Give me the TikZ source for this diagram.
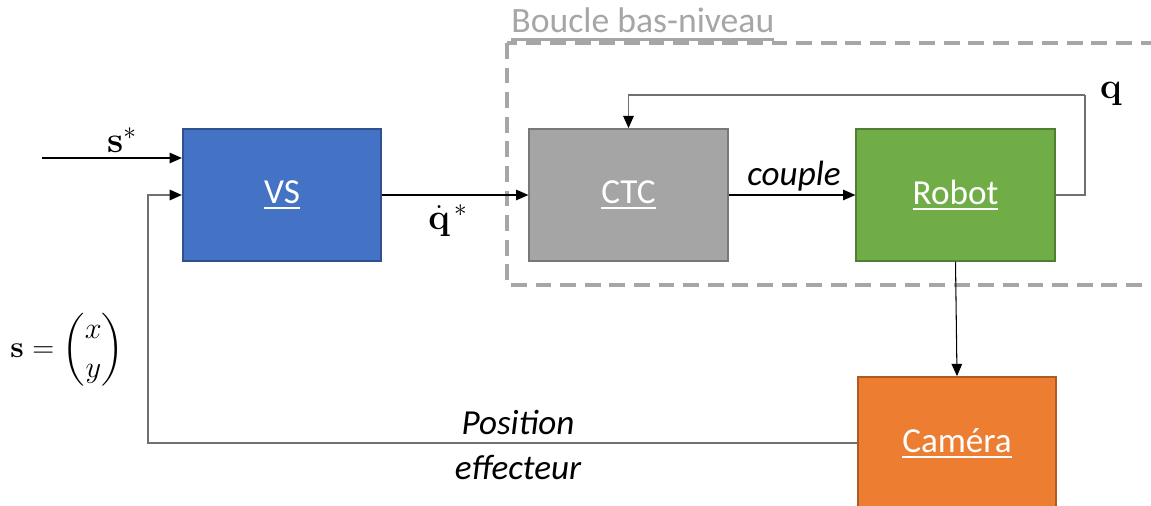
\documentclass[tikz,border=0pt]{standalone}
\usepackage{amsmath}
\usepackage[no-math]{fontspec}
\setmainfont{Carlito}
\usetikzlibrary{arrows.meta}
\definecolor{vsfill}{HTML}{4472C4}
\definecolor{vsdraw}{HTML}{2F528F}
\definecolor{ctcfill}{HTML}{A5A5A5}
\definecolor{ctcdraw}{HTML}{787878}
\definecolor{robfill}{HTML}{70AD47}
\definecolor{robdraw}{HTML}{507E32}
\definecolor{camfill}{HTML}{ED7D31}
\definecolor{camdraw}{HTML}{AE5A21}
\definecolor{dashgray}{HTML}{A6A6A6}
\definecolor{fbgray}{HTML}{707070}
\newcommand{\boxul}[1]{\setbox0\hbox{#1}\rlap{\rule[-3pt]{\wd0}{1.1pt}}\box0}
\newcommand{\titleul}[1]{\setbox0\hbox{#1}\rlap{\rule[-4.5pt]{\wd0}{1.6pt}}\box0}
\begin{document}
\begin{tikzpicture}[x=0.02cm,y=-0.02cm,
  blk/.style={rectangle, line width=1pt, minimum width=3.97cm, minimum height=2.64cm,
    text=white, font=\fontsize{20}{24}\selectfont, inner sep=0pt},
  arr/.style={line width=0.6pt, draw=black, -{Triangle[length=7pt,width=6pt,color=black]}},
  fb/.style={line width=0.8pt, draw=fbgray},
  lbl/.style={font=\fontsize{20}{26}\selectfont, inner sep=0pt},
  ilbl/.style={font=\fontsize{20}{26}\selectfont\itshape, inner sep=0pt, align=center}]
\useasboundingbox (0,0) rectangle (1151,506);
\clip (0,0) rectangle (1151,506);
% low-level loop frame
\draw[dashgray, line width=2.4pt, dash pattern=on 9pt off 5pt] (507,43) rectangle (1180,285);
\node[anchor=base west, inner sep=0pt, text=dashgray, font=\fontsize{20.3}{24}\selectfont] (title) at (511,33) {\titleul{Boucle bas-niveau}};
% blocks
\node[blk, fill=vsfill, draw=vsdraw] (vs) at (282,195) {\boxul{VS}};
\node[blk, fill=ctcfill, draw=ctcdraw] (ctc) at (628.5,195) {\boxul{CTC}};
\node[blk, fill=robfill, draw=robdraw] (robot) at (955.5,195) {\boxul{Robot}};
\node[blk, fill=camfill, draw=camdraw] (cam) at (957,443) {\boxul{Caméra}};
% coordinates
\coordinate (sin) at (42,158);
\coordinate (qtop) at (1085,95);
\coordinate (fbc) at (148,443);
% connectors
\draw[arr] (sin) -- (vs.west |- sin);
\draw[arr] (vs.east) -- (ctc.west);
\draw[arr] (ctc.east) -- (robot.west);
\draw[arr] (robot.south) -- (cam.north);
\draw[fb] (robot.east) -| (qtop);
\draw[fb, arrows={-Triangle[length=7pt,width=6pt,color=black]}] (qtop) -| (ctc.north);
\draw[fb, arrows={-Triangle[length=7pt,width=6pt,color=black]}] (cam.west) -- (fbc) |- (vs.west);
% labels
\node[lbl] (sstar) at (122,140) {$\mathbf{s}^{*}$};
\node[lbl] (qdot) at (448,221) {$\dot{\mathbf{q}}^{\,*}$};
\node[lbl] (qlab) at (1111,94) {$\mathbf{q}$};
\node[ilbl] (couple) at (794,176) {couple};
\node[ilbl] (pos) at (518,445) {Position\\effecteur};
\node[lbl, anchor=west, font=\fontsize{18}{22}\selectfont] (sdef) at (10,350) {$\mathbf{s}=\begin{pmatrix}x\\y\end{pmatrix}$};
\end{tikzpicture}
\end{document}
